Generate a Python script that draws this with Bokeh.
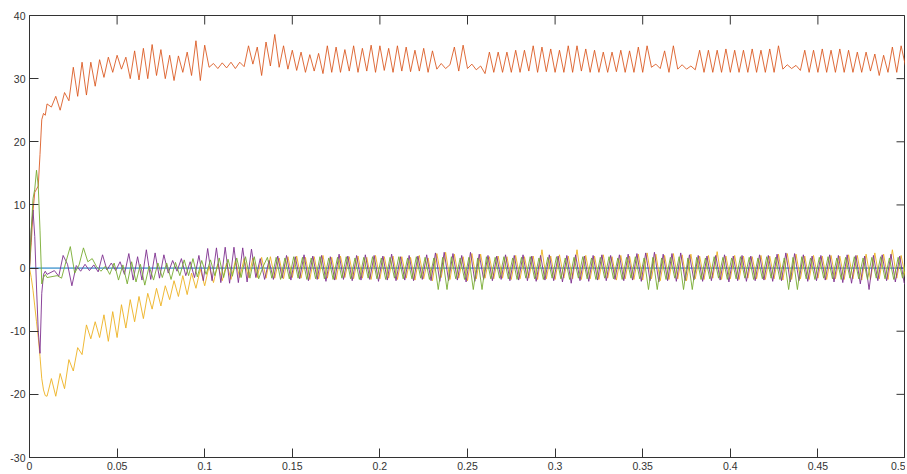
import math
from bokeh.plotting import figure
from bokeh.models import Range1d, LinearAxis, FixedTicker
from bokeh.embed import file_html
from bokeh.resources import INLINE

# ---------------- data ----------------
x_ticks = [0, 0.05, 0.1, 0.15, 0.2, 0.25, 0.3, 0.35, 0.4, 0.45, 0.5]
x_tick_labels = ["0", "0.05", "0.1", "0.15", "0.2", "0.25", "0.3", "0.35", "0.4", "0.45", "0.5"]
y_ticks = [-30, -20, -10, 0, 10, 20, 30, 40]
y_tick_labels = ["-30", "-20", "-10", "0", "10", "20", "30", "40"]

# sample times of the start-up transient
t_early = [0.0, 0.001, 0.002, 0.003, 0.004, 0.005, 0.006, 0.007, 0.008, 0.009, 0.010]
# afterwards: one sample every half period (peak / trough)
t_main_start = 0.0125
dt = 0.0025
purple_shift = 0.0017
green_shift = 0.0033

blue_t = [0.0, 0.5]
blue_v = [0.0, 0.0]

orange_early = [0.0, 4.0, 9.0, 12.0, 12.5, 13.0, 18.0, 23.5, 24.5, 24.2, 26.0]
orange_main = [
    25.5, 27.2, 25.0, 27.8, 26.5, 31.8, 27.2, 32.6, 27.4, 32.6,
    28.8, 33.0, 30.2, 33.4, 31.0, 33.7, 31.5, 33.4, 30.0, 34.4,
    29.8, 34.8, 30.0, 35.4, 30.5, 34.6, 30.0, 33.7, 29.7, 33.6,
    31.0, 34.2, 30.5, 36.0, 29.7, 35.3, 31.8, 32.4, 31.6, 32.5,
    31.7, 32.6, 31.6, 32.6, 31.9, 35.2, 32.3, 35.0, 30.5, 35.8,
    32.0, 37.0, 31.8, 35.2, 31.5, 34.5, 31.3, 34.2, 31.0, 33.8,
    31.2, 34.0, 30.8, 35.2, 31.0, 35.0, 31.0, 34.6, 31.2, 35.2,
    31.0, 34.8, 31.2, 35.3, 31.0, 35.2, 31.3, 34.8, 31.0, 35.2,
    31.2, 35.0, 31.1, 34.5, 31.2, 34.8, 31.0, 34.4, 31.5, 32.4,
    31.6, 32.2, 35.0, 31.2, 35.3, 31.6, 32.3, 31.4, 32.0, 30.8,
    34.2, 31.0, 34.2, 31.0, 34.2, 31.0, 34.5, 31.0, 34.5, 31.2,
    35.2, 31.0, 35.0, 31.1, 34.7, 31.0, 34.5, 31.0, 35.2, 31.0,
    35.2, 31.2, 34.7, 31.0, 34.5, 31.0, 34.2, 31.0, 34.2, 31.1,
    34.5, 31.0, 34.4, 31.0, 35.0, 31.0, 35.2, 31.8, 32.3, 31.6,
    34.4, 31.0, 35.2, 31.5, 32.2, 31.5, 32.0, 31.4, 34.5, 31.0,
    34.5, 31.0, 34.5, 31.0, 34.7, 31.0, 34.5, 31.0, 34.5, 31.0,
    34.7, 31.0, 34.5, 31.0, 34.7, 31.0, 35.2, 31.5, 32.2, 31.6,
    32.1, 31.3, 34.5, 31.0, 34.5, 31.0, 34.7, 31.0, 34.5, 31.0,
    34.7, 31.0, 34.5, 31.0, 34.2, 31.0, 34.2, 31.2, 33.9, 30.5,
    33.7, 31.0, 35.0, 31.0, 35.2, 32.0,
]

yellow_early = [0.0, -1.5, -3.5, -6.0, -8.5, -11.0, -14.0, -17.5, -19.3, -20.2, -20.3]
yellow_main = [
    -17.5, -20.3, -16.7, -19.1, -14.5, -16.3, -12.6, -13.7, -9.0, -11.2,
    -8.5, -11.0, -7.4, -11.6, -6.9, -11.0, -5.8, -9.5, -5.0, -8.5,
    -4.5, -8.0, -4.0, -6.5, -3.2, -6.0, -2.8, -5.0, -2.0, -4.5,
    -1.2, -4.2, -0.8, -3.2, -0.2, -2.8, 0.3, -2.3, 0.6, -2.0,
    0.8, -1.8, 1.2, -1.5, 1.5, -1.5, 1.6, -1.5, 1.7, -1.6,
    1.8, -1.6, 1.6, -1.7, 1.8, -1.5, 1.9, -1.6, 1.7, -1.8,
    1.8, -1.7, 2.0, -1.6, 1.7, -1.8, 1.9, -1.5, 1.8, -1.7,
    1.9, -1.6, 1.7, -1.8, 2.0, -1.7, 1.8, -1.6, 1.9, -1.8,
    1.8, -1.6, 1.7, -1.9, 2.0, -1.7, 1.6, -2.0, 2.3, -1.5,
    2.5, -1.8, 2.2, -1.6, 1.8, -2.0, 2.3, -1.7, 2.2, -1.6,
    1.8, -1.7, 1.9, -1.6, 1.8, -1.8, 2.0, -1.7, 1.8, -1.6,
    1.9, -1.8, 2.9, -1.7, 1.9, -1.8, 2.1, -1.6, 1.9, -1.7,
    2.9, -1.8, 2.0, -1.7, 1.9, -1.8, 2.1, -1.6, 1.8, -1.9,
    2.0, -1.7, 1.9, -1.8, 2.2, -1.9, 2.4, -1.7, 2.2, -2.0,
    2.0, -1.8, 2.3, -1.7, 2.1, -2.0, 2.2, -1.7, 1.9, -1.8,
    2.0, -1.6, 2.6, -1.8, 1.9, -1.7, 2.0, -1.8, 1.9, -1.6,
    1.8, -1.7, 2.0, -1.8, 1.9, -1.7, 2.2, -1.9, 2.3, -1.8,
    2.2, -1.7, 1.9, -1.8, 2.0, -1.6, 1.9, -1.8, 2.0, -1.7,
    1.9, -1.8, 2.1, -1.7, 2.0, -1.9, 2.2, -1.8, 2.4, -1.7,
    2.2, -1.8, 2.9, -1.6, 2.0, -1.5,
]

purple_early = [0.0, 6.0, 9.2, 5.0, -3.0, -10.0, -13.5, -4.0, -1.0, -0.5, -1.0]
purple_main = [
    -0.4, -1.3, 2.0, 0.6, -2.8, 0.4, -0.5, 0.6, -0.4, 0.5,
    -0.6, 2.1, -0.3, 0.8, -0.4, 1.0, -1.0, 2.3, -1.9, 1.8,
    -1.9, 2.9, -1.8, 2.4, -1.6, 2.1, -0.8, 1.2, -0.5, 1.5,
    -1.2, 1.0, -1.5, 2.0, -2.0, 3.1, -2.0, 3.2, -2.3, 3.3,
    -2.4, 3.3, -2.3, 3.2, -2.2, 3.0, -1.5, 1.5, -1.8, 1.2,
    -1.8, 1.9, -1.6, 2.0, -1.9, 1.8, -1.7, 2.1, -2.0, 1.9,
    -1.8, 2.0, -2.1, 1.8, -1.9, 2.2, -1.8, 1.9, -2.0, 2.0,
    -1.9, 2.1, -1.8, 2.0, -2.1, 1.9, -1.9, 2.2, -2.0, 1.8,
    -1.9, 2.0, -2.0, 1.9, -1.8, 2.1, -2.0, 2.4, -2.1, 2.5,
    -2.0, 2.3, -1.9, 2.0, -2.2, 2.5, -2.1, 2.2, -1.8, 2.0,
    -2.0, 1.9, -1.8, 2.1, -2.0, 2.0, -1.9, 2.1, -2.0, 1.9,
    -2.1, 2.0, -1.9, 2.1, -2.0, 1.9, -2.2, 2.0, -2.4, 2.1,
    -2.0, 1.9, -2.1, 2.0, -1.9, 2.1, -2.0, 2.0, -1.8, 2.1,
    -2.0, 2.2, -1.9, 2.3, -2.1, 2.4, -2.0, 2.5, -2.2, 2.2,
    -2.0, 2.3, -2.1, 2.4, -2.0, 2.1, -1.9, 2.0, -2.1, 1.9,
    -2.0, 2.0, -1.9, 2.1, -2.2, 1.9, -2.0, 2.0, -2.1, 1.9,
    -2.0, 2.1, -1.9, 2.0, -2.1, 2.2, -2.0, 2.4, -2.2, 2.3,
    -2.0, 2.1, -2.1, 1.9, -2.0, 2.0, -1.9, 2.1, -2.2, 2.0,
    -2.3, 2.1, -2.4, 2.0, -2.5, 1.9, -3.4, 2.0, -2.0, 2.1,
    -2.0, 2.2, -2.2, 1.9, -2.3, -3.4,
]

green_early = [0.0, 6.0, 11.0, 12.5, 15.5, 13.0, 6.0, -2.5, -1.5, -1.0, -1.5]
green_main = [
    -1.2, -1.6, 1.0, 3.4, -0.8, 0.5, 3.2, 1.0, 1.5, 0.2,
    -0.5, 0.3, -1.0, 0.8, -1.9, 0.5, -2.5, 1.0, -2.2, 0.6,
    -2.7, 0.3, -1.9, 0.8, -1.5, 0.8, -1.8, 0.9, -1.2, 1.3,
    -1.2, 1.5, -1.4, 1.2, -1.0, 1.3, -1.2, 1.6, -1.5, 1.4,
    -1.3, 1.6, -1.5, 1.8, -1.6, 1.8, -1.7, 0.2, 1.7, -1.6,
    1.7, -1.8, 1.6, -1.7, 1.8, -1.6, 1.7, -1.8, 1.6, -1.7,
    1.8, -1.7, 1.6, -1.8, 1.7, -1.6, 1.8, -1.7, 1.6, -1.8,
    1.7, -1.6, 1.8, -1.7, 1.6, -1.8, 1.7, -1.6, 1.8, -1.7,
    1.6, -1.7, 1.8, -1.6, 1.7, -1.8, 1.6, -3.4, 1.7, -3.4,
    1.8, -1.7, 1.6, -1.8, 1.7, -3.4, 1.6, -3.4, 1.8, -1.7,
    1.7, -1.6, 1.8, -1.7, 1.6, -1.8, 1.7, -1.6, 1.8, -1.7,
    1.6, -1.8, 1.7, -1.6, 1.8, -1.7, 1.6, -1.8, 1.7, -1.6,
    1.8, -1.7, 1.6, -1.8, 1.7, -1.6, 1.8, -1.7, 1.6, -1.8,
    1.7, -1.6, 1.8, -1.7, 1.6, -3.4, 1.7, -3.4, 1.6, -1.8,
    1.7, -1.6, 1.8, -3.4, 1.6, -3.4, 1.7, -1.8, 1.6, -1.7,
    1.8, -1.6, 1.7, -1.8, 1.6, -1.7, 1.8, -1.6, 1.7, -1.8,
    1.6, -1.7, 1.8, -1.6, 1.7, -1.8, 1.6, -3.4, 1.7, -3.4,
    1.8, -1.7, 1.6, -1.8, 1.7, -1.6, 1.8, -1.7, 1.6, -1.8,
    1.7, -1.6, 1.8, -1.7, 1.6, -1.8, 1.7, -1.6, 1.8, -1.7,
    1.6, -1.8, 1.7, -1.6, 1.8, -1.7,
]


def times(n, shift=0.0):
    return t_early + [t_main_start + shift + dt * j for j in range(n)]


# ---------------- figure ----------------
AXIS_COLOR = "#333333"
FONT = "Liberation Sans"
TICK_LEN = 9

p = figure(width=905, height=472,
           x_range=Range1d(x_ticks[0], x_ticks[-1]),
           y_range=Range1d(y_ticks[0], y_ticks[-1]),
           output_backend="svg", toolbar_location=None,
           x_axis_location=None, y_axis_location=None,
           min_border_left=29, min_border_right=0,
           min_border_top=15, min_border_bottom=0,
           background_fill_color="white", border_fill_color="white")
p.outline_line_color = AXIS_COLOR
p.outline_line_width = 1
p.xgrid.visible = False
p.ygrid.visible = False


def make_axis(ticks, labels):
    ax = LinearAxis(ticker=FixedTicker(ticks=ticks))
    ax.major_label_overrides = {t: l for t, l in zip(ticks, labels)}
    ax.major_tick_in = TICK_LEN
    ax.major_tick_out = 0
    ax.minor_tick_line_color = None
    ax.axis_line_color = AXIS_COLOR
    ax.axis_line_width = 1
    ax.major_tick_line_color = AXIS_COLOR
    ax.major_tick_line_width = 1
    ax.major_label_text_font = FONT
    ax.major_label_text_color = AXIS_COLOR
    ax.major_label_text_font_size = "10.5px"
    ax.major_label_standoff = 4
    return ax


p.add_layout(make_axis(x_ticks, x_tick_labels), "below")
p.add_layout(make_axis(y_ticks, y_tick_labels), "left")

# mirrored inward ticks on the top and right edges of the box (half of each dash is clipped by the frame)
p.scatter(x_ticks, [y_ticks[-1]] * len(x_ticks), marker="dash", size=2 * TICK_LEN,
          angle=math.pi / 2, line_color=AXIS_COLOR, line_width=1)
p.scatter([x_ticks[-1]] * len(y_ticks), y_ticks, marker="dash", size=2 * TICK_LEN,
          line_color=AXIS_COLOR, line_width=1)

p.line(blue_t, blue_v, line_color="#0072BD", line_width=1)
p.line(times(len(orange_main)), orange_early + orange_main, line_color="#D95319", line_width=0.85)
p.line(times(len(yellow_main)), yellow_early + yellow_main, line_color="#EDB120", line_width=0.9)
p.line(times(len(purple_main), purple_shift), purple_early + purple_main, line_color="#7E2F8E", line_width=0.9)
p.line(times(len(green_main), green_shift), green_early + green_main, line_color="#77AC30", line_width=0.9)

open("out.html", "w").write(file_html(p, INLINE))
